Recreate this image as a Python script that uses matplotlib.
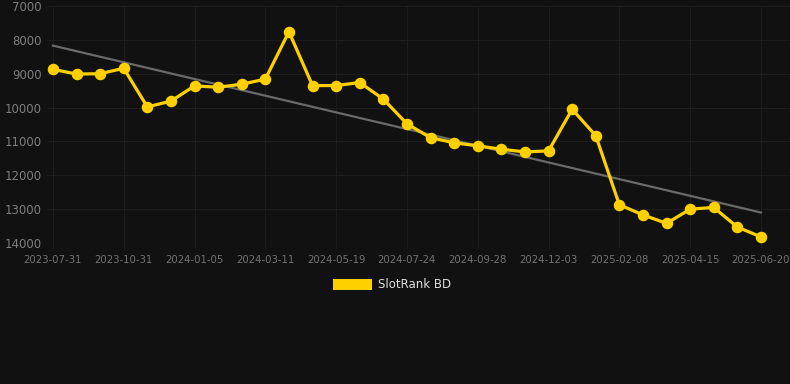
import matplotlib
matplotlib.use("Agg")
import matplotlib.pyplot as plt
from matplotlib.patches import Rectangle
import numpy as np

# rank values, one per point (31 points), inverted y axis
ranks = [8870, 9010, 9000, 8840, 9980, 9810, 9360, 9400, 9310, 9160,
         7760, 9350, 9350, 9260, 9750, 10480, 10890, 11040, 11130, 11230,
         11310, 11280, 10050, 10830, 12870, 13170, 13420, 13000, 12950, 13530,
         13820]
tick_labels = ['2023-07-31', '2023-10-31', '2024-01-05', '2024-03-11', '2024-05-19',
               '2024-07-24', '2024-09-28', '2024-12-03', '2025-02-08', '2025-04-15',
               '2025-06-20']
trend_start = 8170
trend_end = 13100
series_name = 'SlotRank BD'

bg = '#111111'
yellow = '#ffd000'

W, H = 790, 384
fig = plt.figure(figsize=(W / 100, H / 100), dpi=100)
fig.patch.set_facecolor(bg)
ax = fig.add_axes([47 / W, 1 - 243 / H, 743 / W, 237 / H])
ax.set_facecolor(bg)

x = np.arange(len(ranks))
ax.plot([x[0], x[-1]], [trend_start, trend_end], color='#6a6a6a', lw=1.6, zorder=2)
ax.plot(x, ranks, color=yellow, lw=2.3, marker='o', markersize=7.3, zorder=3)

ax.set_ylim(14000, 7000)
ax.set_yticks(np.arange(7000, 14001, 1000))
ax.set_xlim(-0.25, 31.23)
ax.set_xticks(x[::3])
ax.set_xticklabels(tick_labels)

ax.grid(True, color='#1d1d1d', lw=0.8, zorder=0)
for s in ax.spines.values():
    s.set_visible(False)
ax.tick_params(axis='y', length=0, pad=4, labelsize=8.5, labelcolor='#7e7e7e')
ax.tick_params(axis='x', length=4, color='#1d1d1d', pad=4.5, labelsize=7.3, labelcolor='#727272')

# legend
fig.patches.append(Rectangle((333 / W, 1 - 290 / H), 39 / W, 11 / H,
                             transform=fig.transFigure, facecolor=yellow, edgecolor='none'))
fig.text(378 / W, 1 - 285 / H, series_name, color='#dddddd', fontsize=8.5, va='center', ha='left')

fig.savefig('out.png', dpi=100, facecolor=bg)
